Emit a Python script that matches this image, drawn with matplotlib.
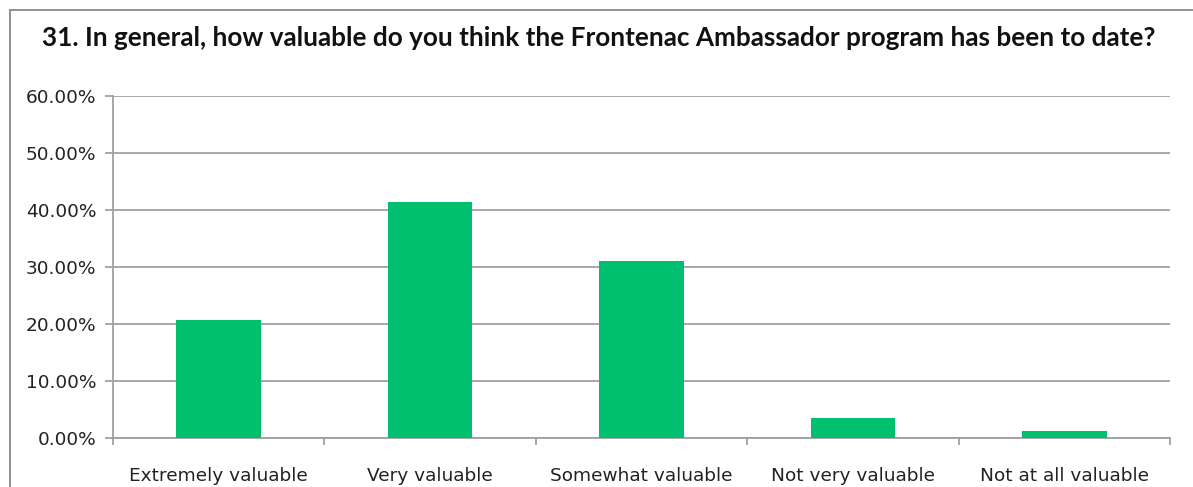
import matplotlib
matplotlib.use("Agg")
import matplotlib.pyplot as plt
from matplotlib.lines import Line2D
from matplotlib.ticker import FuncFormatter, FixedLocator
import numpy as np

title = "31. In general, how valuable do you think the Frontenac Ambassador program has been to date?"
categories = ["Extremely valuable", "Very valuable", "Somewhat valuable",
              "Not very valuable", "Not at all valuable"]
shares = [20.69, 41.38, 31.03, 3.45, 1.15]
y_ticks = [0, 10, 20, 30, 40, 50, 60]

W, H = 1193, 487
fig = plt.figure(figsize=(W / 100, H / 100), dpi=100)
ax = fig.add_axes([113 / W, 1 - 438 / H, (1170 - 113) / W, (438 - 96) / H])

grid_col = "#a0a0a0"
x = np.arange(len(categories))
ax.bar(x, shares, width=0.4, color="#00bf6f", zorder=3)

ax.set_xlim(-0.5, len(categories) - 0.5)
ax.set_ylim(0, 60)
ax.set_yticks(y_ticks)
ax.yaxis.set_major_formatter(FuncFormatter(lambda v, p: f"{v:.2f}%"))
ax.grid(axis="y", color=grid_col, linewidth=1.3, zorder=0)

# category labels centred, tick marks on the boundaries
ax.set_xticks(x)
ax.set_xticklabels(categories)
ax.xaxis.set_minor_locator(FixedLocator(np.arange(-0.5, len(categories), 1.0)))
ax.tick_params(axis="x", which="major", length=0, pad=21, labelsize=13.3,
               labelcolor="#222222")
ax.tick_params(axis="x", which="minor", length=5, width=1.3, color=grid_col,
               direction="out")
ax.tick_params(axis="y", length=6, width=1.3, color=grid_col, pad=6,
               labelsize=13.3, labelcolor="#222222")

for side in ("top", "right"):
    ax.spines[side].set_visible(False)
ax.spines["left"].set_color(grid_col)
ax.spines["bottom"].set_color(grid_col)
ax.spines["left"].set_linewidth(1.3)
ax.spines["bottom"].set_linewidth(1.3)

fig.text(599 / W, 1 - 38 / H, title, ha="center", va="center",
         fontsize=18.8, fontweight="bold", family="Lato", color="#111111")

# outer frame of the chart
fig.add_artist(Line2D([10 / W, 1], [1 - 10 / H, 1 - 10 / H],
                      transform=fig.transFigure, color="#888888", linewidth=1.3))
fig.add_artist(Line2D([10 / W, 10 / W], [0, 1 - 10 / H],
                      transform=fig.transFigure, color="#888888", linewidth=1.3))

fig.savefig("out.png", dpi=100)
